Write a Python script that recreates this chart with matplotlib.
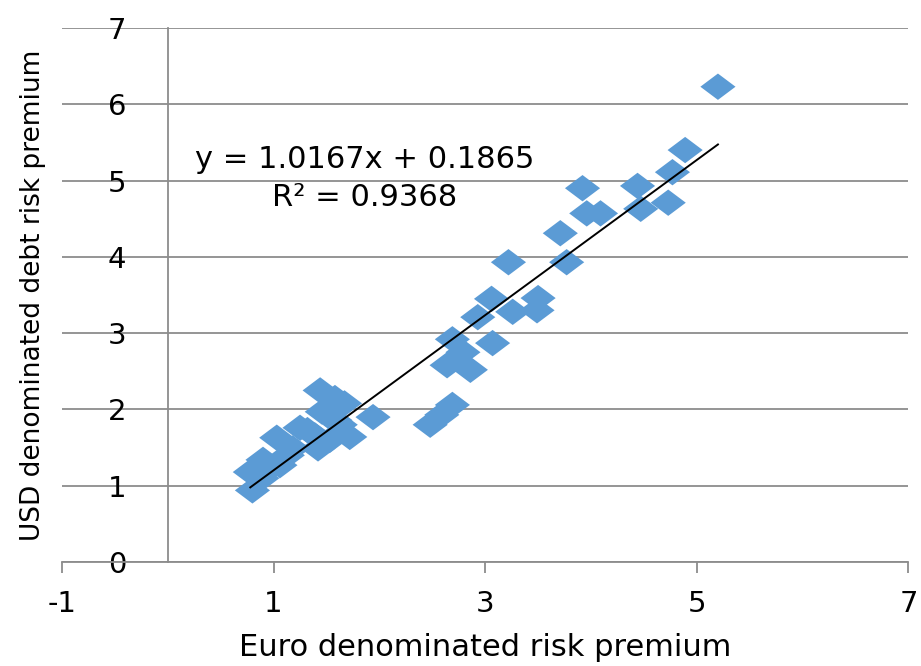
import numpy as np
import matplotlib.pyplot as plt
from matplotlib.path import Path

plt.rcParams['font.family'] = ['DejaVu Sans']
plt.rcParams['axes.unicode_minus'] = False

# values
euro_premium = [0.80, 0.78, 0.89, 0.96, 0.90, 1.06, 1.03, 1.18, 1.25, 1.39,
                1.13, 1.44, 1.58, 1.67, 1.46, 1.58, 1.42, 1.53, 1.72, 1.94,
                1.32, 1.63,
                2.48, 2.59, 2.69, 2.86, 2.64, 2.79, 3.07, 2.69,
                2.93, 3.26, 3.49, 3.06, 3.50, 3.22,
                3.77, 3.71, 3.96, 4.09, 3.92, 4.47, 4.73, 4.44, 4.77, 4.89, 5.20]
usd_premium = [0.94, 1.18, 1.10, 1.23, 1.34, 1.27, 1.63, 1.49, 1.76, 1.66,
               1.40, 2.25, 2.15, 2.08, 1.97, 1.86, 1.49, 1.60, 1.64, 1.90,
               1.73, 1.80,
               1.80, 1.93, 2.06, 2.52, 2.58, 2.75, 2.87, 2.92,
               3.21, 3.28, 3.30, 3.45, 3.46, 3.93,
               3.93, 4.31, 4.57, 4.57, 4.90, 4.63, 4.71, 4.93, 5.11, 5.40, 6.23]
slope = 1.0167
intercept = 0.1865
r_squared = 0.9368

x_ticks = [-1, 1, 3, 5, 7]
y_ticks = [0, 1, 2, 3, 4, 5, 6, 7]

# flattened diamond like the Excel marker
diamond = Path([(-1, 0), (0, 0.75), (1, 0), (0, -0.75), (-1, 0)],
               [Path.MOVETO, Path.LINETO, Path.LINETO, Path.LINETO, Path.CLOSEPOLY])

fig = plt.figure(figsize=(9.21, 6.66), dpi=100)
ax = fig.add_axes([0.0673, 0.156, 0.919, 0.802])

ax.scatter(euro_premium, usd_premium, marker=diamond, s=640, color='#5B9BD5',
           edgecolors='none', zorder=3)

fit_x = np.array([min(euro_premium), max(euro_premium)])
ax.plot(fit_x, slope * fit_x + intercept, color='black', lw=1.4, zorder=4)

ax.set_xlim(-1, 7)
ax.set_ylim(0, 7)
ax.set_xticks(x_ticks)
ax.set_yticks(y_ticks)

ax.yaxis.grid(True, color='#8c8c8c', lw=1.3)
ax.set_axisbelow(True)

ax.spines['top'].set_visible(False)
ax.spines['right'].set_visible(False)
ax.spines['left'].set_position(('data', 0))
ax.spines['left'].set_color('#8c8c8c')
ax.spines['left'].set_linewidth(1.3)
ax.spines['bottom'].set_color('#8c8c8c')
ax.spines['bottom'].set_linewidth(1.3)

ax.tick_params(axis='x', direction='out', length=8, width=1.3, color='#8c8c8c',
               labelsize=21, pad=12)
ax.tick_params(axis='y', length=0, labelsize=21, pad=30)

ax.set_xlabel('Euro denominated risk premium', fontsize=22, labelpad=11)
ax.set_ylabel('USD denominated debt risk premium', fontsize=19)
ax.yaxis.set_label_coords(-0.019, 0.5, transform=ax.transAxes)

ax.text(1.86, 5.27, 'y = %.4fx + %.4f' % (slope, intercept), fontsize=22,
        ha='center', va='center')
ax.text(1.86, 4.78, 'R² = %.4f' % r_squared, fontsize=22, ha='center', va='center')

fig.savefig('out.png', dpi=100)
